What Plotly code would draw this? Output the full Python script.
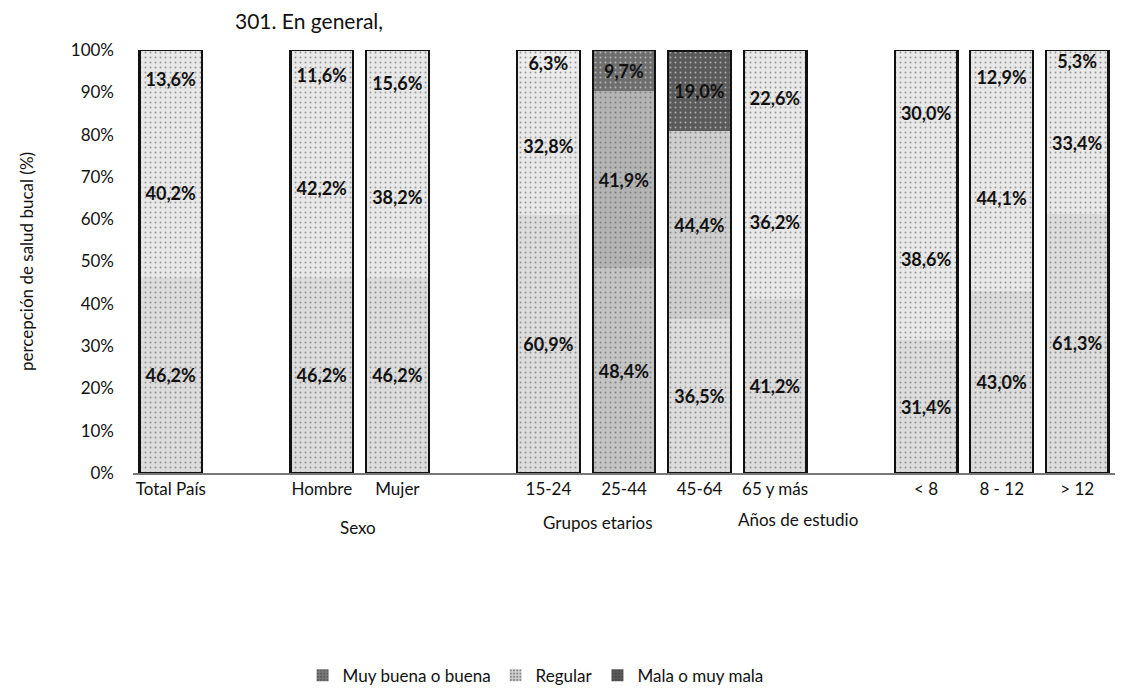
import plotly.graph_objects as go

# ---- data ----
slots = ["Total País", " ", "Hombre", "Mujer", "  ", "15-24", "25-44", "45-64", "65 y más", "   ", "< 8", "8 - 12", "> 12"]
categories = ["Total País", "Hombre", "Mujer", "15-24", "25-44", "45-64", "65 y más", "< 8", "8 - 12", "> 12"]
muy_buena = [46.2, 46.2, 46.2, 60.9, 48.4, 36.5, 41.2, 31.4, 43.0, 61.3]
regular = [40.2, 42.2, 38.2, 32.8, 41.9, 44.4, 36.2, 38.6, 44.1, 33.4]
mala = [13.6, 11.6, 15.6, 6.3, 9.7, 19.0, 22.6, 30.0, 12.9, 5.3]
groups = [("Sexo", 2.48, -0.13), ("Grupos etarios", 5.66, -0.118), ("Años de estudio", 8.3, -0.11)]
ytick_vals = [0, 10, 20, 30, 40, 50, 60, 70, 80, 90, 100]
ytick_text = ["0%", "10%", "20%", "30%", "40%", "50%", "60%", "70%", "80%", "90%", "100%"]

# ---- styles ----
FONT = "Lato"
c_buena = ["#dcdcdc", "#dcdcdc", "#dcdcdc", "#dcdcdc", "#c4c4c4", "#dcdcdc", "#dcdcdc", "#dcdcdc", "#dcdcdc", "#dcdcdc"]
c_regular = ["#e8e8e8", "#e8e8e8", "#e8e8e8", "#e8e8e8", "#b4b4b4", "#cfcfcf", "#e8e8e8", "#e8e8e8", "#e8e8e8", "#e8e8e8"]
c_mala = ["#e8e8e8", "#e8e8e8", "#e8e8e8", "#ececec", "#6e6e6e", "#5a5a5a", "#e8e8e8", "#e8e8e8", "#e8e8e8", "#e8e8e8"]
legend_colors = {"Muy buena o buena": "#7a7a7a", "Regular": "#d0d0d0", "Mala o muy mala": "#5a5a5a"}

def seg(name, vals, colors):
    return go.Bar(
        name=name, x=categories, y=vals, showlegend=False,
        marker=dict(color=colors, line=dict(width=0),
                    pattern=dict(shape=".", fgcolor="#7a7a7a", size=5, solidity=0.12)),
        texttemplate="<b>%{y:.1f}%</b>", textposition="inside", insidetextanchor="middle",
        textfont=dict(family=FONT, size=18, color="#111111"),
        textangle=0, constraintext="none",
        hoverinfo="skip",
    )

fig = go.Figure()
fig.add_trace(seg("Muy buena o buena", muy_buena, c_buena))
fig.add_trace(seg("Regular", regular, c_regular))
fig.add_trace(seg("Mala o muy mala", mala, c_mala))

totals = [a + b + c for a, b, c in zip(muy_buena, regular, mala)]
fig.add_trace(go.Bar(
    x=categories, y=totals, base=0, xaxis="x2", showlegend=False,
    marker=dict(color="rgba(0,0,0,0)", line=dict(color="#111111", width=2.2)),
    hoverinfo="skip",
))

# legend-only swatches
for name, col in legend_colors.items():
    fig.add_trace(go.Bar(
        name=name, x=[None], y=[None], showlegend=True,
        marker=dict(color=col, line=dict(width=0),
                    pattern=dict(shape=".", fgcolor="#333333", size=4, solidity=0.3)),
        hoverinfo="skip",
    ))

for label, pos, ypos in groups:
    fig.add_annotation(x=pos, y=ypos, xref="x", yref="paper", text=label,
                       yanchor="middle", showarrow=False,
                       font=dict(family=FONT, size=17, color="#111111"))

fig.add_annotation(x=0.102, y=1, xref="paper", yref="paper", text="301. En general,",
                   xanchor="left", yanchor="bottom", yshift=15, showarrow=False,
                   font=dict(family=FONT, size=21, color="#111111"))

fig.update_layout(
    width=1123, height=697,
    margin=dict(l=125, r=16, t=42, b=225),
    barmode="stack", bargap=0.17,
    separators=",.",
    paper_bgcolor="white", plot_bgcolor="white",
    font=dict(family=FONT, size=16, color="#111111"),
    uniformtext=dict(minsize=14, mode="show"),
    xaxis=dict(type="category", categoryorder="array", categoryarray=slots,
               range=[-0.5, 12.5], showline=True, linecolor="#777777", linewidth=1.5,
               ticks="", showgrid=False, tickfont=dict(family=FONT, size=17, color="#111111")),
    xaxis2=dict(type="category", categoryorder="array", categoryarray=slots,
                range=[-0.5, 12.5], overlaying="x", visible=False),
    yaxis=dict(range=[0, 100], tickvals=ytick_vals, ticktext=ytick_text,
               showgrid=False, showline=False, zeroline=False, ticks="",
               ticklabelstandoff=18,
               tickfont=dict(family=FONT, size=17, color="#111111"),
               title=dict(text="percepción de salud bucal (%)", standoff=32,
                          font=dict(family=FONT, size=17, color="#111111"))),
    legend=dict(orientation="h", x=0.41, xanchor="center", y=-0.479, yanchor="middle",
                font=dict(family=FONT, size=17, color="#111111"), traceorder="normal",
                itemwidth=30),
    bargroupgap=0,
)

fig.write_html("out.html")
